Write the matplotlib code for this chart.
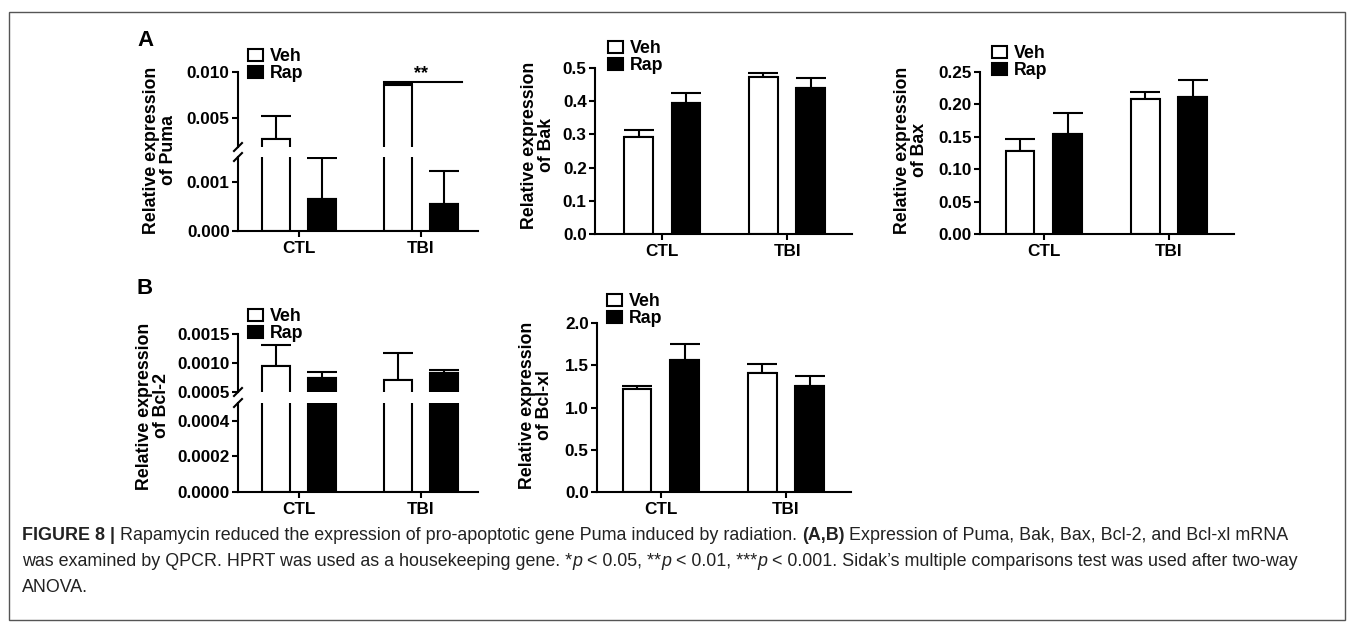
import numpy as np
import matplotlib
matplotlib.use("Agg")
import matplotlib.pyplot as plt
from matplotlib.patches import Rectangle
from matplotlib.lines import Line2D

plt.rcParams['font.family'] = ['Liberation Sans', 'DejaVu Sans']
plt.rcParams['font.weight'] = 'bold'

# ---- data ----
groups = ['CTL', 'TBI']
puma_veh = [0.0027, 0.0086]
puma_veh_err = [0.0025, 0.0001]
puma_rap = [0.00065, 0.00055]
puma_rap_err = [0.00082, 0.00067]

bak_veh = [0.293, 0.472]
bak_veh_err = [0.020, 0.014]
bak_rap = [0.394, 0.440]
bak_rap_err = [0.032, 0.029]

bax_veh = [0.128, 0.209]
bax_veh_err = [0.019, 0.010]
bax_rap = [0.155, 0.212]
bax_rap_err = [0.031, 0.026]

bcl2_veh = [0.00095, 0.00070]
bcl2_veh_err = [0.00036, 0.00048]
bcl2_rap = [0.00074, 0.00083]
bcl2_rap_err = [0.00010, 0.00005]

bclxl_veh = [1.22, 1.41]
bclxl_veh_err = [0.04, 0.11]
bclxl_rap = [1.56, 1.25]
bclxl_rap_err = [0.19, 0.12]

W, H = 1357, 628
fig = plt.figure(figsize=(W / 100, H / 100), dpi=100)
LW = 1.5
FS = 12.3
off, bw = 0.19, 0.23
x = np.arange(len(groups))


def box(x0, y0, x1, y1):
    return [x0 / W, 1 - y1 / H, (x1 - x0) / W, (y1 - y0) / H]


def bars(ax, veh, veh_err, rap, rap_err):
    b1 = ax.bar(x - off, veh, bw, color='white', edgecolor='black', lw=LW, zorder=2)
    b2 = ax.bar(x + off, rap, bw, color='black', edgecolor='black', lw=LW, zorder=2)
    ax.errorbar(x - off, veh, yerr=[np.zeros(len(veh)), veh_err], fmt='none',
                ecolor='black', elinewidth=LW, capsize=11, capthick=LW, zorder=1)
    ax.errorbar(x + off, rap, yerr=[np.zeros(len(rap)), rap_err], fmt='none',
                ecolor='black', elinewidth=LW, capsize=11, capthick=LW, zorder=1)
    return b1, b2


def style(ax, xlim, bottom=True):
    ax.set_xlim(*xlim)
    for s in ['top', 'right']:
        ax.spines[s].set_visible(False)
    ax.spines['left'].set_linewidth(LW)
    ax.spines['bottom'].set_linewidth(LW)
    ax.tick_params(axis='y', direction='out', length=4, width=LW, labelsize=FS, pad=2)
    if bottom:
        ax.set_xticks(x)
        ax.set_xticklabels(groups, fontsize=FS, fontweight='bold')
        ax.tick_params(axis='x', direction='out', length=4, width=LW, pad=3)
    else:
        ax.spines['bottom'].set_visible(False)
        ax.set_xticks([])
    for lab in ax.get_yticklabels():
        lab.set_fontweight('bold')


def legend(ax, handles, px, py):
    ax.legend(handles, ['Veh', 'Rap'], loc='upper left', bbox_to_anchor=(px / W, 1 - py / H),
              bbox_transform=fig.transFigure, frameon=False,
              borderpad=0, borderaxespad=0, handlelength=0.85, handleheight=0.65,
              handletextpad=0.4, labelspacing=0.0, prop={'weight': 'bold', 'size': 12.8})


def slash(ax, at_top):
    bb = ax.get_position()
    xp = bb.x0 * W
    yp = (1 - (bb.y1 if at_top else bb.y0)) * H
    fig.add_artist(Line2D([(xp - 4) / W, (xp + 4) / W], [1 - (yp + 4) / H, 1 - (yp - 4) / H],
                          color='black', lw=LW, transform=fig.transFigure))


def ylabel(text, px, py):
    fig.text(px / W, 1 - py / H, text, rotation=90, ha='center', va='center',
             fontsize=12.8, fontweight='bold', linespacing=1.05)


# ---- Puma (broken axis) ----
pu_up = fig.add_axes(box(238, 72, 478, 147))
pu_lo = fig.add_axes(box(238, 157, 478, 231))
h = bars(pu_up, puma_veh, puma_veh_err, puma_rap, puma_rap_err)
bars(pu_lo, puma_veh, puma_veh_err, puma_rap, puma_rap_err)
pu_up.set_ylim(0.00185, 0.010)
pu_up.set_yticks([0.005, 0.010])
pu_up.set_yticklabels(['0.005', '0.010'])
pu_lo.set_ylim(0, 0.0015)
pu_lo.set_yticks([0.000, 0.001])
pu_lo.set_yticklabels(['0.000', '0.001'])
style(pu_up, (-0.5, 1.47), bottom=False)
style(pu_lo, (-0.5, 1.47))
slash(pu_up, False)
slash(pu_lo, True)
legend(pu_up, h, 248, 48)
ylabel('Relative expression\nof Puma', 160, 150)
# significance bar
sig_y = 0.0089
pu_up.plot([1 - off - bw / 2, 1 + off + bw / 2 + 0.03], [sig_y, sig_y], color='black', lw=LW,
           clip_on=False)
pu_up.text(1, sig_y, '**', ha='center', va='bottom', fontsize=13, fontweight='bold')

# ---- Bak ----
ax = fig.add_axes(box(595, 68, 852, 234))
h = bars(ax, bak_veh, bak_veh_err, bak_rap, bak_rap_err)
ax.set_ylim(0, 0.5)
ax.set_yticks(np.arange(0, 0.51, 0.1))
ax.set_yticklabels(['0.0', '0.1', '0.2', '0.3', '0.4', '0.5'])
style(ax, (-0.54, 1.52))
legend(ax, h, 608, 40)
ylabel('Relative expression\nof Bak', 538, 145)

# ---- Bax ----
ax = fig.add_axes(box(980, 72, 1234, 234))
h = bars(ax, bax_veh, bax_veh_err, bax_rap, bax_rap_err)
ax.set_ylim(0, 0.25)
ax.set_yticks(np.arange(0, 0.26, 0.05))
ax.set_yticklabels(['0.00', '0.05', '0.10', '0.15', '0.20', '0.25'])
style(ax, (-0.51, 1.52))
legend(ax, h, 992, 45)
ylabel('Relative expression\nof Bax', 911, 150)

# ---- Bcl-2 (broken axis) ----
b2_up = fig.add_axes(box(238, 334, 478, 392))
b2_lo = fig.add_axes(box(238, 403, 478, 492))
h = bars(b2_up, bcl2_veh, bcl2_veh_err, bcl2_rap, bcl2_rap_err)
bars(b2_lo, bcl2_veh, bcl2_veh_err, bcl2_rap, bcl2_rap_err)
b2_up.set_ylim(0.0005, 0.0015)
b2_up.set_yticks([0.0005, 0.0010, 0.0015])
b2_up.set_yticklabels(['0.0005', '0.0010', '0.0015'])
b2_lo.set_ylim(0, 0.0005)
b2_lo.set_yticks([0, 0.0002, 0.0004])
b2_lo.set_yticklabels(['0.0000', '0.0002', '0.0004'])
style(b2_up, (-0.5, 1.47), bottom=False)
style(b2_lo, (-0.5, 1.47))
slash(b2_up, False)
slash(b2_lo, True)
legend(b2_up, h, 248, 308)
ylabel('Relative expression\nof Bcl-2', 153, 406)

# ---- Bcl-xl ----
ax = fig.add_axes(box(597, 323, 851, 492))
h = bars(ax, bclxl_veh, bclxl_veh_err, bclxl_rap, bclxl_rap_err)
ax.set_ylim(0, 2.0)
ax.set_yticks(np.arange(0, 2.01, 0.5))
ax.set_yticklabels(['0.0', '0.5', '1.0', '1.5', '2.0'])
style(ax, (-0.51, 1.52))
legend(ax, h, 607, 293)
ylabel('Relative expression\nof Bcl-xl', 536, 405)

# panel letters
fig.text(137 / W, 1 - 40 / H, 'A', fontsize=16, fontweight='bold', va='center')
fig.text(137 / W, 1 - 289 / H, 'B', fontsize=16, fontweight='bold', va='center')

# frame
fig.add_artist(Rectangle((9 / W, 1 - 620 / H), (1345 - 9) / W, (620 - 12) / H, fill=False,
                         ec='#555555', lw=1, transform=fig.transFigure))

# caption
lines = [
    [("FIGURE 8 | ", 'bold', 'normal'),
     ("Rapamycin reduced the expression of pro-apoptotic gene Puma induced by radiation. ", 'normal', 'normal'),
     ("(A,B)", 'bold', 'normal'),
     (" Expression of Puma, Bak, Bax, Bcl-2, and Bcl-xl mRNA", 'normal', 'normal')],
    [("was examined by QPCR. HPRT was used as a housekeeping gene. *", 'normal', 'normal'),
     ("p", 'normal', 'italic'), (" < 0.05, **", 'normal', 'normal'),
     ("p", 'normal', 'italic'), (" < 0.01, ***", 'normal', 'normal'),
     ("p", 'normal', 'italic'),
     (" < 0.001. Sidak\u2019s multiple comparisons test was used after two-way", 'normal', 'normal')],
    [("ANOVA.", 'normal', 'normal')],
]
renderer = fig.canvas.get_renderer()
for i, segs in enumerate(lines):
    xp = 22
    yp = 535 + i * 26
    for s, wgt, sty in segs:
        t = fig.text(xp / W, 1 - yp / H, s, fontsize=12.9, fontweight=wgt, fontstyle=sty,
                     va='center', ha='left', color='#222222')
        xp += t.get_window_extent(renderer).width

fig.savefig('out.png', dpi=100)
